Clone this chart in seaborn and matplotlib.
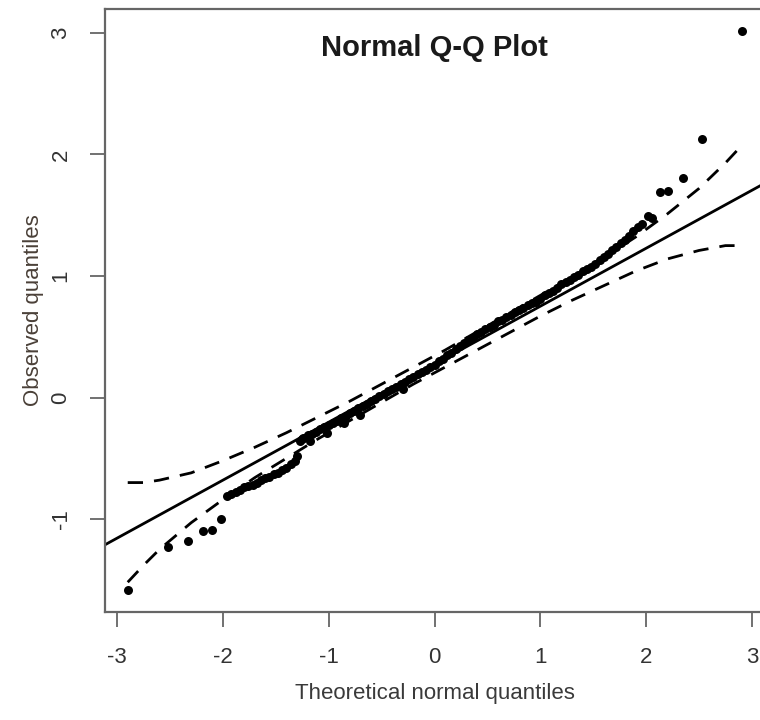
import matplotlib
matplotlib.use("Agg")
import matplotlib.pyplot as plt
import seaborn as sns

# punkty Q-Q (kwantyle teoretyczne / obserwowane)
QQ_X = [
    -2.90, -2.52, -2.33, -2.19, -2.10, -2.02,
    -1.96, -1.92, -1.88, -1.84, -1.80, -1.76, -1.72, -1.68, -1.64, -1.60,
    -1.56, -1.52, -1.48, -1.44, -1.40, -1.36, -1.32, -1.30,
    -1.27, -1.25,
    -1.24, -1.20, -1.16, -1.12, -1.08, -1.04, -1.00, -0.96, -0.92, -0.88,
    -0.84, -0.80, -0.76, -0.72, -0.68, -0.64, -0.60, -0.56, -0.52, -0.48,
    -0.44, -0.40, -0.36, -0.32, -0.28, -0.24, -0.20, -0.16, -0.12, -0.08,
    -0.04, 0.00, 0.04, 0.08, 0.12, 0.16, 0.20,
    -1.18, -1.02, -0.86, -0.70, -0.30,
    0.24, 0.28, 0.32, 0.36, 0.40, 0.44, 0.48, 0.52, 0.56, 0.60, 0.64,
    0.68, 0.72, 0.76, 0.80, 0.84, 0.88, 0.92, 0.96, 1.00, 1.04, 1.08,
    1.12, 1.16, 1.20, 1.24, 1.28, 1.32, 1.36, 1.40, 1.44, 1.48, 1.52,
    1.56, 1.60, 1.64, 1.68, 1.72, 1.76, 1.80, 1.84, 1.88, 1.92, 1.96,
    2.02, 2.06, 2.13, 2.21, 2.35, 2.53, 2.91,
]
QQ_Y = [
    -1.58, -1.23, -1.18, -1.10, -1.09, -1.00,
    -0.81, -0.79, -0.78, -0.76, -0.74, -0.73, -0.72, -0.70, -0.68, -0.66,
    -0.65, -0.63, -0.62, -0.60, -0.58, -0.55, -0.52, -0.48,
    -0.36, -0.34,
    -0.33, -0.31, -0.30, -0.28, -0.26, -0.24, -0.23, -0.21, -0.19, -0.17,
    -0.15, -0.13, -0.11, -0.09, -0.07, -0.05, -0.03, -0.01, 0.01, 0.03,
    0.05, 0.07, 0.09, 0.11, 0.13, 0.15, 0.17, 0.19, 0.21, 0.23,
    0.25, 0.27, 0.30, 0.32, 0.35, 0.37, 0.40,
    -0.36, -0.29, -0.21, -0.14, 0.07,
    0.42, 0.45, 0.47, 0.49, 0.52, 0.54, 0.56, 0.58, 0.60, 0.63, 0.64,
    0.66, 0.68, 0.70, 0.72, 0.74, 0.76, 0.78, 0.79, 0.81, 0.84, 0.86,
    0.88, 0.90, 0.93, 0.95, 0.97, 0.99, 1.01, 1.04, 1.06, 1.07, 1.10,
    1.13, 1.16, 1.18, 1.21, 1.24, 1.27, 1.30, 1.33, 1.37, 1.40, 1.43,
    1.49, 1.48, 1.69, 1.70, 1.81, 2.13, 3.02,
]

# linia odniesienia
LINE_INTERCEPT = 0.274
LINE_SLOPE = 0.477

# obwiednia (przerywane linie)
ENV_X = [-2.90, -2.75, -2.60, -2.30, -2.00, -1.70, -1.40, -1.10, -0.80, -0.50,
         -0.20, 0.10, 0.40, 0.70, 1.00, 1.30, 1.60, 1.90, 2.20, 2.50, 2.75, 2.90]
ENV_UPPER = [-0.70, -0.70, -0.68, -0.62, -0.52, -0.41, -0.29, -0.16, -0.03, 0.11,
             0.25, 0.39, 0.54, 0.69, 0.84, 0.99, 1.15, 1.32, 1.51, 1.72, 1.93, 2.07]
ENV_LOWER = [-1.52, -1.38, -1.25, -1.03, -0.84, -0.66, -0.50, -0.34, -0.19, -0.04,
             0.11, 0.25, 0.39, 0.53, 0.67, 0.80, 0.92, 1.04, 1.14, 1.21, 1.25, 1.25]

X_TICKS = [-3, -2, -1, 0, 1, 2, 3]
Y_TICKS = [-1, 0, 1, 2, 3]

sns.set_theme(style="white")
plt.rcParams["font.family"] = ["Liberation Sans", "DejaVu Sans"]

fig = plt.figure(figsize=(7.6, 7.2), dpi=100)
ax = fig.add_axes([0.138, 0.15, 0.868, 0.8375])

dash = (0, (5.5, 4))
sns.lineplot(x=ENV_X, y=ENV_UPPER, ax=ax, color="black", linewidth=2.0,
             linestyle=dash, sort=False, estimator=None)
sns.lineplot(x=ENV_X, y=ENV_LOWER, ax=ax, color="black", linewidth=2.0,
             linestyle=dash, sort=False, estimator=None)
ax.axline((0, LINE_INTERCEPT), slope=LINE_SLOPE, color="black", linewidth=2.0)

sns.scatterplot(x=QQ_X, y=QQ_Y, ax=ax, color="black", s=42, linewidth=0)

ax.set_xlim(-3.116, 3.12)
ax.set_ylim(-1.765, 3.197)
ax.set_xticks(X_TICKS)
ax.set_yticks(Y_TICKS)
ax.set_xticklabels([str(t) for t in X_TICKS])
ax.set_yticklabels([str(t) for t in Y_TICKS], rotation=90, va="center")

for sp in ax.spines.values():
    sp.set_color("#666666")
    sp.set_linewidth(1.6)

ax.tick_params(axis="both", direction="out", length=11, width=1.3,
               color="#666666", labelsize=16, labelcolor="#333333",
               left=True, bottom=True)
ax.tick_params(axis="x", pad=14)
ax.tick_params(axis="y", pad=13)

ax.set_xlabel("Theoretical normal quantiles", fontsize=16, color="#3a3a3a",
              labelpad=11)
ax.set_ylabel("Observed quantiles", fontsize=16, color="#4a4038", labelpad=5)
ax.text(0.5, 0.935, "Normal Q-Q Plot", transform=ax.transAxes, ha="center",
        va="center", fontsize=21, fontweight="bold", color="#1a1a1a")

fig.savefig("out.png", dpi=100)
